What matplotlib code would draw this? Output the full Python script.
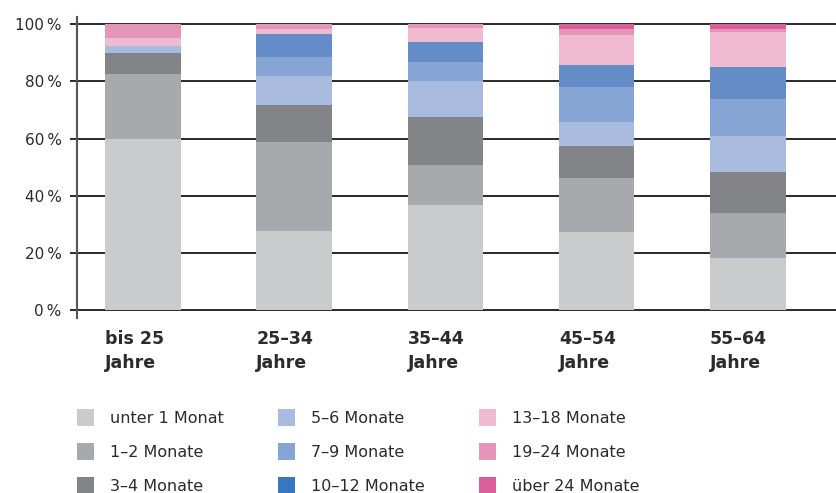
"""
Dauer der Arbeitslosigkeit nach Altersgruppen, gestapelte Säulen in Prozent.
"""
import numpy as np
import matplotlib
matplotlib.use("Agg")
import matplotlib.pyplot as plt
from matplotlib.patches import Rectangle

groups = ["bis 25\nJahre", "25–34\nJahre", "35–44\nJahre", "45–54\nJahre", "55–64\nJahre"]

series_names = ["unter 1 Monat", "1–2 Monate", "3–4 Monate",
                "5–6 Monate", "7–9 Monate", "10–12 Monate",
                "13–18 Monate", "19–24 Monate", "über 24 Monate"]

# Anteile in % je Altersgruppe (bis 25, 25-34, 35-44, 45-54, 55-64)
unter_1 = [60.0, 27.6, 36.7, 27.3, 18.2]
m_1_2 = [22.5, 31.1, 14.0, 18.9, 15.7]
m_3_4 = [7.4, 13.0, 16.8, 11.1, 14.4]
m_5_6 = [2.4, 10.1, 12.6, 8.4, 12.5]
m_7_9 = [0.0, 6.7, 6.6, 12.3, 13.0]
m_10_12 = [0.0, 8.0, 7.0, 7.7, 11.2]
m_13_18 = [2.8, 1.8, 4.9, 10.5, 12.2]
m_19_24 = [4.9, 1.7, 1.4, 2.1, 1.1]
ueber_24 = [0.0, 0.0, 0.0, 1.7, 1.7]

values = [unter_1, m_1_2, m_3_4, m_5_6, m_7_9, m_10_12, m_13_18, m_19_24, ueber_24]

bar_colors = ["#CACBCD", "#A8A9AD", "#838488", "#AABBE0", "#86A5D4",
              "#648DC8", "#F0BBD1", "#E595B8", "#DA5E99"]
legend_colors = ["#CACBCD", "#A8A9AD", "#838488", "#AABBE0", "#86A5D4",
                 "#3578C0", "#F0BBD1", "#E595B8", "#DA5E99"]

TEXT = "#2b2b2b"
W, H = 837, 493


def plot_data():
    plt.rcParams["font.family"] = ["DejaVu Sans"]
    fig = plt.figure(figsize=(W / 100, H / 100), dpi=100)
    ax = fig.add_axes([77 / W, (H - 318) / H, 1 - 77 / W, 301 / H])

    x = np.arange(len(groups))
    width = 0.5
    bottom = np.zeros(len(groups))
    for vals, col in zip(values, bar_colors):
        ax.bar(x, vals, width, bottom=bottom, color=col, linewidth=0, zorder=3)
        bottom += np.array(vals)

    ax.set_xlim(-0.4365, 4.59)
    ax.set_ylim(-2.8, 102.55)

    # y axis with grid lines running across the bars' background
    ax.set_yticks(range(0, 101, 20))
    ax.set_yticklabels([f"{v}\u2009%" for v in range(0, 101, 20)], fontsize=11, color=TEXT)
    ax.tick_params(axis="y", length=5, width=1.4, color="#2a2a2a", pad=6)
    ax.yaxis.grid(True, color="#2a2a2a", linewidth=1.4, zorder=1)
    ax.set_axisbelow(True)

    ax.set_xticks(x - width / 2)
    ax.set_xticklabels(groups, fontsize=12.5, fontweight="bold", color=TEXT,
                       ha="left", linespacing=1.38)
    ax.tick_params(axis="x", length=0, pad=9)

    for side in ["top", "right", "bottom"]:
        ax.spines[side].set_visible(False)
    ax.spines["left"].set_color("#555555")
    ax.spines["left"].set_linewidth(1.5)
    ax.spines["left"].set_zorder(4)

    # legend: three columns of three entries
    col_x = [77, 278, 479]
    row_y = [417, 451, 485]
    for i, (name, col) in enumerate(zip(series_names, legend_colors)):
        cx = col_x[i // 3]
        cy = row_y[i % 3]
        fig.add_artist(Rectangle(((cx) / W, (H - cy - 8.5) / H), 17 / W, 17 / H,
                                 transform=fig.transFigure, color=col, linewidth=0))
        fig.text((cx + 33) / W, (H - cy) / H, name, fontsize=11.5, color=TEXT,
                 va="center_baseline", ha="left")

    fig.savefig("out.png", dpi=100)


def main():
    plot_data()


if __name__ == "__main__":
    main()
